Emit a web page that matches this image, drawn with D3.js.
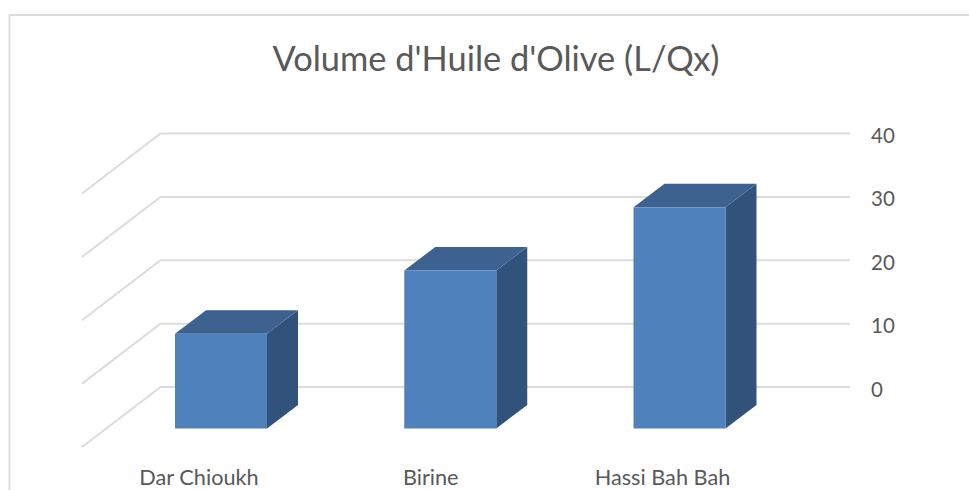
<!DOCTYPE html>
<html><head><meta charset="utf-8">
<script src="https://cdn.jsdelivr.net/npm/d3@7/dist/d3.min.js"></script>
<style>html,body{margin:0;padding:0;background:#fff}svg{display:block}text{font-family:Lato,"Open Sans",sans-serif;fill:#595959}</style>
</head><body><svg id="c" width="969" height="490"></svg>
<script>
const categories = ["Dar Chioukh", "Birine", "Hassi Bah Bah"];
const values = [15, 25, 35];
const ticks = [0, 10, 20, 30, 40];
const title = "Volume d'Huile d'Olive (L/Qx)";

const svg = d3.select("#c");
const W = 969, H = 490;

// chart frame: cropped at the right and bottom of the picture
svg.append("path").attr("d", d3.line()([[9.5, H], [9.5, 15], [W, 15]]))
  .attr("fill", "none").attr("stroke", "#dcdcdc").attr("stroke-width", 2);

svg.append("text").attr("x", 496).attr("y", 71).attr("text-anchor", "middle")
  .attr("font-size", 34.4).text(title);

// back wall value scale
const y = d3.scaleLinear().domain([0, 40]).range([387, 133.5]);
const backLeft = 160.5, backRight = 850;
const wall = { dx: -78.5, dy: 60 };
const grid = svg.append("g").attr("fill", "none").attr("stroke", "#dcdcdc").attr("stroke-width", 2);
ticks.forEach(t => {
  grid.append("path").attr("d", d3.line()([
    [backLeft + wall.dx, y(t) + wall.dy], [backLeft, y(t)], [backRight, y(t)]
  ]));
});
svg.append("g").selectAll("text").data(ticks).join("text")
  .attr("x", 871).attr("y", d => y(d) + 9.5).attr("font-size", 20.5).text(d => d);

// bars
const barX = d3.scalePoint().domain(categories).range([175, 633.5]);
const labelX = d3.scalePoint().domain(categories).range([199, 662.5]);
const barW = 92, depthX = 31, depthY = 23.5, floorY = 428.5;
const h = d3.scaleLinear().domain([0, 10]).range([0, 63.2]);
const line = d3.line();
const bars = svg.append("g").selectAll("g").data(categories).join("g");
bars.each(function (c, i) {
  const g = d3.select(this);
  const l = barX(c), r = l + barW, top = floorY - h(values[i]);
  g.append("path").attr("fill", "#31527a").attr("d", line([
    [r, floorY], [r + depthX, floorY - depthY], [r + depthX, top - depthY], [r, top]]) + "Z");
  g.append("path").attr("fill", "#3d628f").attr("d", line([
    [l, top], [l + depthX, top - depthY], [r + depthX, top - depthY], [r, top]]) + "Z");
  g.append("rect").attr("x", l).attr("y", top).attr("width", barW).attr("height", floorY - top)
    .attr("fill", "#4f81bd");
});
svg.append("g").selectAll("text").data(categories).join("text")
  .attr("x", c => labelX(c)).attr("y", 485).attr("text-anchor", "middle")
  .attr("font-size", 21.7).text(c => c);
</script></body></html>
